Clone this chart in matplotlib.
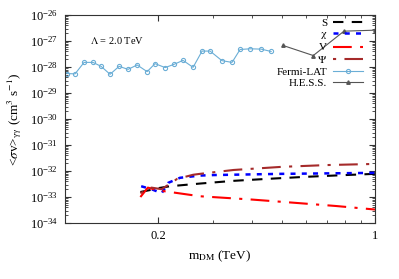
import matplotlib
matplotlib.use("Agg")
import matplotlib.pyplot as plt
from matplotlib.ticker import LogFormatterMathtext, NullFormatter, FixedLocator, FixedFormatter

plt.rcParams['font.family'] = ['Liberation Serif', 'DejaVu Serif']
plt.rcParams['mathtext.fontset'] = 'stix'

# Fermi-LAT limit
fermi_m = [0.1015, 0.1077, 0.1152, 0.1231, 0.1307, 0.1397, 0.1494, 0.1597, 0.1708, 0.1840,
           0.1951, 0.2103, 0.2248, 0.2402, 0.2588, 0.2767, 0.2937, 0.3207, 0.3457, 0.3670,
           0.3953, 0.4288, 0.4621]
fermi_sv = [5.65e-29, 5.5e-29, 1.52e-28, 1.52e-28, 1.07e-28, 5.3e-29, 1.07e-28, 8.2e-29, 1.21e-28, 6.7e-29,
            1.36e-28, 9.6e-29, 1.28e-28, 1.82e-28, 9.8e-29, 4.14e-28, 4.14e-28, 1.77e-28, 1.52e-28, 4.77e-28,
            5.07e-28, 4.93e-28, 4.0e-28]

# H.E.S.S. limit
hess_m = [0.505, 0.632, 0.794, 1.0]
hess_sv = [6.8e-28, 2.79e-28, 2.42e-27, 2.64e-27]

# model predictions
s_m = [0.175, 0.19, 0.2, 0.218, 0.2725, 0.35, 0.45, 0.6, 0.8, 1.0]
s_sv = [1.56e-33, 1.9e-33, 2.2e-33, 2.6e-33, 3.3e-33, 4.2e-33, 5.0e-33, 6.0e-33, 7.0e-33, 7.8e-33]

chi_m = [0.176, 0.19, 0.205, 0.215, 0.235, 0.2725, 0.3, 0.5, 1.0]
chi_sv = [2.6e-33, 2.0e-33, 1.4e-33, 3.5e-33, 5.5e-33, 6.7e-33, 7.0e-33, 7.8e-33, 8.5e-33]

v_m = [0.175, 0.185, 0.2, 0.218, 0.2725, 0.4, 0.55, 0.75, 1.0]
v_sv = [1.0e-33, 2.3e-33, 1.8e-33, 1.56e-33, 1.07e-33, 8.0e-34, 6.0e-34, 4.5e-34, 3.3e-34]

psi_m = [0.175, 0.19, 0.205, 0.23, 0.259, 0.2725, 0.35, 0.5, 0.7, 1.0]
psi_sv = [1.4e-33, 2.3e-33, 2.0e-33, 5.0e-33, 7.2e-33, 7.8e-33, 1.1e-32, 1.45e-32, 1.7e-32, 1.88e-32]

y_major = [10.0 ** e for e in range(-34, -25)]
y_minor = [k * 10.0 ** e for e in range(-34, -26) for k in range(2, 10)]

fig = plt.figure(figsize=(3.99, 2.79), dpi=100)
ax = fig.add_axes([0.163, 0.2007, 0.777, 0.745])

ax.plot(s_m, s_sv, color='black', lw=1.5, dashes=(5, 4), label='S')
ax.plot(chi_m, chi_sv, color='blue', lw=1.8, dashes=(2, 2.5), label=r'$\mathrm{\chi}$')
ax.plot(v_m, v_sv, color='red', lw=1.5, dashes=(9, 4, 1.5, 4), label='V')
ax.plot(psi_m, psi_sv, color='#a52a2a', lw=1.5, dashes=(1.5, 4, 9, 4), label=r'$\Psi$')
ax.plot(fermi_m, fermi_sv, color='#6baed6', lw=0.8, marker='o', ms=3, mfc='none',
        mew=0.8, label='Fermi-LAT')
ax.plot(hess_m, hess_sv, color='#555555', lw=0.8, marker='^', ms=2.5, label='H.E.S.S.')

ax.set_xscale('log')
ax.set_yscale('log')
ax.set_xlim(0.1, 1.0)
ax.set_ylim(1e-34, 1e-26)

ax.xaxis.set_major_locator(FixedLocator([0.2, 1.0]))
ax.xaxis.set_major_formatter(FixedFormatter(['0.2', '1']))
ax.xaxis.set_minor_locator(FixedLocator([0.3, 0.4, 0.5, 0.6, 0.7, 0.8, 0.9]))
ax.xaxis.set_minor_formatter(NullFormatter())
ax.yaxis.set_major_locator(FixedLocator(y_major))
ax.yaxis.set_major_formatter(LogFormatterMathtext())
ax.yaxis.set_minor_locator(FixedLocator(y_minor))
ax.yaxis.set_minor_formatter(NullFormatter())

ax.tick_params(which='both', direction='in', top=True, right=True, labelsize=9, colors='#333333',
               labelcolor='black')
ax.tick_params(which='major', length=4, pad=5)
ax.tick_params(which='minor', length=2)
for sp in ax.spines.values():
    sp.set_color('#333333')

ax.text(0.1204, 1.02e-27, r'$\Lambda$ = 2.0 TeV', fontsize=7.5, va='center', ha='left')

ax.set_xlabel(r'm$_{\mathrm{DM}}$ (TeV)', fontsize=9.5, labelpad=5)
ax.set_ylabel(r'<$\sigma$v>$_{\mathrm{\gamma\gamma}}$ (cm$^3$ s$^{-1}$)', fontsize=9.5, labelpad=4)

ax.legend(loc='upper right', bbox_to_anchor=(0.985, 1.025), frameon=False, markerfirst=False,
          fontsize=8, handlelength=2.7, handletextpad=0.5, labelspacing=0.15, borderpad=0.2)

fig.savefig('out.png', dpi=100)
